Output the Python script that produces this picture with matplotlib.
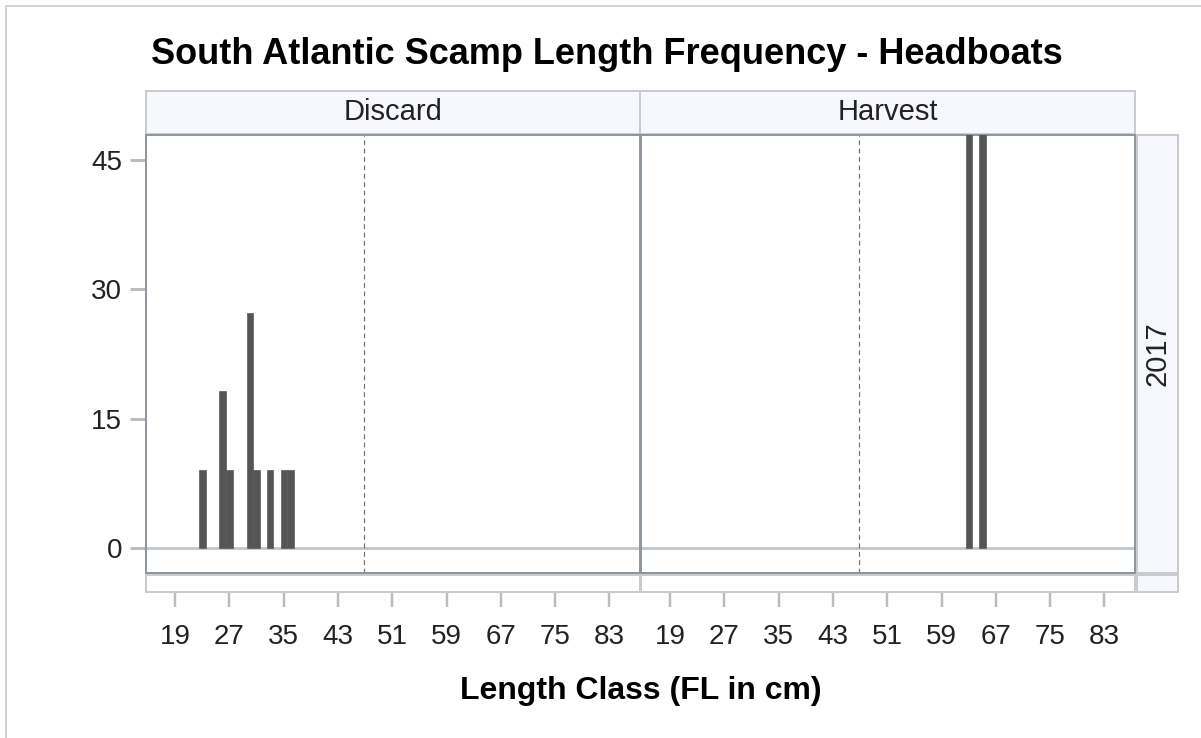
import matplotlib
matplotlib.use("Agg")
import matplotlib.pyplot as plt
from matplotlib.lines import Line2D

# ---- data ----
title = "South Atlantic Scamp Length Frequency - Headboats"
panels = ["Discard", "Harvest"]
row_label = "2017"
discard_lengths = [23, 26, 27, 30, 31, 33, 35, 36]
discard_pct = [9.09, 18.18, 9.09, 27.27, 9.09, 9.09, 9.09, 9.09]
harvest_lengths = [63, 65]
harvest_pct = [50.0, 50.0]
size_limit = 46.8
x_ticks = [19, 27, 35, 43, 51, 59, 67, 75, 83]
y_ticks = [0, 15, 30, 45]
x_label = "Length Class (FL in cm)"

W, H = 1201, 738
plt.rcParams['font.family'] = ['Liberation Sans', 'DejaVu Sans']
fig = plt.figure(figsize=(W / 100, H / 100), dpi=100)
fig.patch.set_facecolor('white')

def px(x0, y0, x1, y1):
    return [x0 / W, 1 - y1 / H, (x1 - x0) / W, (y1 - y0) / H]

PT = 72 / 100  # points per pixel
XLIM = (14.7, 87.5)
YLIM = (-2.9, 47.9)
frame_c = '#8f979e'
strip_fc = '#f7f8fe'
strip_ec = '#c9cbcd'
tick_c = '#b9bdc1'
bar_c = '#555555'

def strip(rect, text=None, rot=0, size=21):
    a = fig.add_axes(px(*rect))
    a.set_facecolor(strip_fc)
    a.set_xticks([]); a.set_yticks([])
    for s in a.spines.values():
        s.set_color(strip_ec); s.set_linewidth(2 * PT)
    if text:
        a.text(0.5, 0.5, text, ha='center', va='center', rotation=rot,
               fontsize=size, color='#222222', transform=a.transAxes)
    return a

# outer border
fig.add_artist(Line2D([6 / W, 1], [1 - 6 / H, 1 - 6 / H], color='#d4d4d4', lw=2 * PT, transform=fig.transFigure))
fig.add_artist(Line2D([6 / W, 6 / W], [0, 1 - 6 / H], color='#d4d4d4', lw=2 * PT, transform=fig.transFigure))

# title
fig.text(607 / W, 1 - 55 / H, title, ha='center', va='center', fontsize=26, fontweight='bold', color='black')

# header strips
strip((146, 91, 640, 134), panels[0])
strip((640, 91, 1135, 134), panels[1])
# row strip
strip((1137, 135, 1178, 573), row_label, rot=90)
strip((1137, 575, 1178, 592))

series = [(discard_lengths, discard_pct), (harvest_lengths, harvest_pct)]
xs = [(146, 640), (641, 1135)]
for i, ((lx, ly), (x0, x1)) in enumerate(zip(series, xs)):
    ax = fig.add_axes(px(x0, 135, x1, 573))
    ax.set_xlim(*XLIM); ax.set_ylim(*YLIM)
    ax.axhline(0, color='#c6cacd', lw=3 * PT, zorder=1)
    ax.axvline(size_limit, color='#707070', lw=1.2 * PT, ls=(0, (4, 3)), zorder=1)
    ax.bar(lx, ly, width=0.95, color=bar_c, edgecolor='#5a5a5a', linewidth=0.5, zorder=3)
    for s in ax.spines.values():
        s.set_color(frame_c); s.set_linewidth(2 * PT)
    ax.set_xticks([])
    if i == 0:
        ax.set_yticks(y_ticks)
        ax.set_yticklabels([str(v) for v in y_ticks])
        ax.tick_params(axis='y', length=16 * PT, width=3 * PT, color=tick_c,
                       pad=8 * PT, labelsize=20, labelcolor='#222222')
    else:
        ax.set_yticks([])
    # bottom axis strip with ticks
    b = fig.add_axes(px(x0, 575, x1, 592))
    b.set_xlim(*XLIM)
    b.set_yticks([])
    b.set_xticks(x_ticks)
    b.set_xticklabels([str(v) for v in x_ticks])
    b.tick_params(axis='x', length=15 * PT, width=2.5 * PT, color=tick_c,
                  pad=17 * PT, labelsize=20, labelcolor='#222222')
    for s in b.spines.values():
        s.set_color(strip_ec); s.set_linewidth(2 * PT)

fig.text(641 / W, 1 - 691 / H, x_label, ha='center', va='center', fontsize=23, fontweight='bold', color='black')

fig.savefig('out.png', dpi=100)
